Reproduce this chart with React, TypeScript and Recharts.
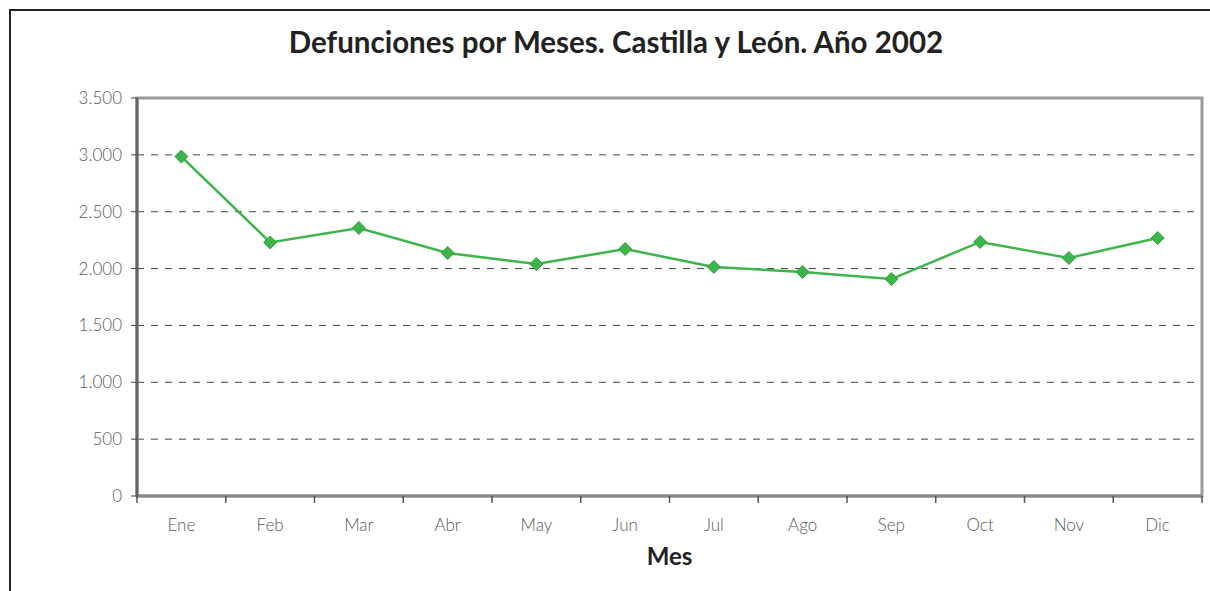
import { LineChart, Line, XAxis, YAxis, CartesianGrid } from 'recharts';

const months = ['Ene', 'Feb', 'Mar', 'Abr', 'May', 'Jun', 'Jul', 'Ago', 'Sep', 'Oct', 'Nov', 'Dic'];
const deaths = [2985, 2230, 2357, 2137, 2040, 2172, 2014, 1970, 1908, 2234, 2093, 2269];
const yTicks = [0, 500, 1000, 1500, 2000, 2500, 3000, 3500];

const data = months.map((mes, i) => ({ mes, value: deaths[i] }));

const W = 1210;
const H = 591;
const PLOT_LEFT = 137;
const PLOT_RIGHT = 1202;
const PLOT_TOP = 98;
const PLOT_BOTTOM = 496;
const X_AXIS_H = 40;
const BAND = (PLOT_RIGHT - PLOT_LEFT) / months.length;
const GREEN = '#3db54a';

const fmt = (v: number) => String(v).replace(/^(\d)(\d{3})$/, '$1.$2');

function Diamond(props: any) {
  const { cx, cy } = props;
  if (cx == null || cy == null) return null;
  const r = 6.5;
  return (
    <polygon
      points={`${cx},${cy - r} ${cx + r},${cy} ${cx},${cy + r} ${cx - r},${cy}`}
      fill={GREEN}
      stroke="#2fa13d"
      strokeWidth={1}
    />
  );
}

function MonthTick(props: any) {
  const { x, y, payload, index } = props;
  const axisY = PLOT_BOTTOM;
  return (
    <g>
      <line x1={x - BAND / 2} x2={x - BAND / 2} y1={axisY} y2={axisY + 7} stroke="#555" strokeWidth={1.5} />
      {index === months.length - 1 && (
        <line x1={x + BAND / 2} x2={x + BAND / 2} y1={axisY} y2={axisY + 7} stroke="#555" strokeWidth={1.5} />
      )}
      <text x={x} y={y + 27} textAnchor="middle" fill="#5a5a5a" fontSize={17} fontWeight={300} fontFamily="Lato">
        {payload.value}
      </text>
    </g>
  );
}

export default function App() {
  return (
    <div style={{ position: 'absolute', left: 0, top: 0, width: W, height: H, background: '#fff', overflow: 'hidden' }}>
      <div
        style={{
          position: 'absolute',
          left: 9,
          top: 9,
          width: W,
          height: H,
          border: '2px solid #222',
          boxSizing: 'border-box',
        }}
      />
      <div
        style={{
          position: 'absolute',
          left: 0,
          top: 24,
          width: 1232,
          textAlign: 'center',
          fontFamily: 'Lato',
          fontWeight: 700,
          fontSize: 29.5,
          color: '#222',
        }}
      >
        Defunciones por Meses. Castilla y León. Año 2002
      </div>
      <div style={{ position: 'absolute', left: 0, top: 0 }}>
        <LineChart
          width={W}
          height={H}
          data={data}
          margin={{ top: PLOT_TOP, right: W - PLOT_RIGHT, bottom: H - PLOT_BOTTOM - X_AXIS_H, left: 0 }}
        >
          <rect x={PLOT_LEFT} y={PLOT_TOP} width={PLOT_RIGHT - PLOT_LEFT} height={PLOT_BOTTOM - PLOT_TOP} fill="none" stroke="#999" strokeWidth={3} />
          <CartesianGrid vertical={false} horizontal strokeDasharray="7 7" stroke="#444" />
          <XAxis
            dataKey="mes"
            axisLine={{ stroke: '#888', strokeWidth: 3 }}
            tickLine={false}
            tick={<MonthTick />}
            interval={0}
            height={X_AXIS_H}
            padding={{ left: BAND / 2, right: BAND / 2 }}
          />
          <YAxis
            width={PLOT_LEFT}
            domain={[0, 3500]}
            ticks={yTicks}
            axisLine={{ stroke: '#666', strokeWidth: 3 }}
            tickLine={{ stroke: '#444' }}
            tickSize={6}
            tickMargin={9}
            tick={{ fill: '#5a5a5a', fontSize: 17, fontWeight: 300, fontFamily: 'Lato' }}
            tickFormatter={(v) => fmt(Number(v))}
          />
          <Line
            type="linear"
            dataKey="value"
            stroke={GREEN}
            strokeWidth={2.5}
            dot={<Diamond />}
            isAnimationActive={false}
          />
        </LineChart>
      </div>
      <div
        style={{
          position: 'absolute',
          left: PLOT_LEFT,
          width: PLOT_RIGHT - PLOT_LEFT,
          top: 541,
          textAlign: 'center',
          fontFamily: 'Lato',
          fontWeight: 700,
          fontSize: 24,
          color: '#222',
        }}
      >
        Mes
      </div>
    </div>
  );
}
